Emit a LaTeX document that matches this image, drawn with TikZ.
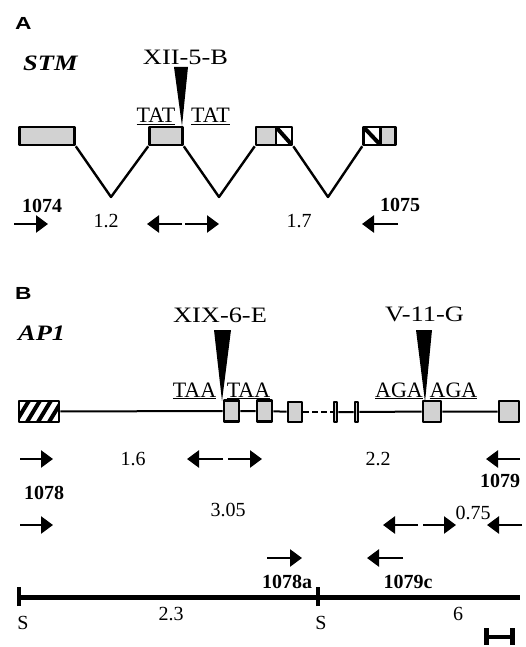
\documentclass[tikz,border=0pt]{standalone}
\usepackage{fontspec}
\setmainfont{Liberation Serif}
\newfontfamily\panelfont{Liberation Sans}
\usetikzlibrary{arrows.meta}
\tikzset{
  exon/.style={draw, line width=2.6pt, fill=gray!35, inner sep=0pt, minimum height=18pt},
  slash/.style={exon, fill=white, path picture={\draw[line width=4pt]
      (path picture bounding box.north west)--(path picture bounding box.south east);}},
  stripes/.style={exon, fill=white, path picture={\foreach \k in {-14,-3,8,19,30}
      \draw[line width=4pt] ([xshift=\k pt]path picture bounding box.south west)--++(14pt,23pt);}},
  primer/.style={line width=2.6pt, -{Triangle[length=12pt,width=17pt]}},
  num/.style={inner sep=0pt, font=\fontsize{20}{22}\selectfont},
  pname/.style={inner sep=0pt, font=\bfseries\fontsize{20}{22}\selectfont},
  codon/.style={inner sep=0pt, anchor=base, font=\fontsize{22}{24}\selectfont},
  site/.style={inner sep=0pt, font=\fontsize{22}{24}\selectfont},
  gene/.style={inner sep=0pt, anchor=base west, font=\bfseries\itshape\fontsize{22}{24}\selectfont},
  panel/.style={inner sep=0pt, anchor=base west, font=\panelfont\bfseries\fontsize{17.5}{20}\selectfont}
}
\begin{document}
\begin{tikzpicture}[x=1pt, y=-1pt, line join=round]
\useasboundingbox (0,0) rectangle (526,647);

% panel A
\node[panel] (lA) at (15,30) {\scalebox{1.3}[1]{A}};
\node[gene] (stm) at (23,71) {\scalebox{1.2}[1]{STM}};
\node[exon, minimum width=55pt] (a1) at (47,136) {};
\node[exon, minimum width=33pt] (a2) at (166,136) {};
\node[exon, minimum width=20pt] (a3) at (266,136) {};
\node[slash, minimum width=16pt] (a3h) at (284,136) {};
\node[slash, minimum width=17pt] (a4h) at (372,136) {};
\node[exon, minimum width=15pt] (a4) at (388,136) {};
\coordinate (v1) at (111,197);
\coordinate (v2) at (219,197);
\coordinate (v3) at (328,197);
\draw[line width=2.4pt] (a1.south east)--(v1)--(a2.south west);
\draw[line width=2.4pt] (a2.south east)--(v2)--(a3.south west);
\draw[line width=2.4pt] (a3h.south east)--(v3)--(a4h.south west);
\fill (174,67)--(188,67)--(182,126)--cycle;
\node[site] (ins1) at (185.5,57) {\scalebox{1.2}[1]{XII-5-B}};
\node[codon] (tat1) at (156,123) {\underline{TAT}};
\node[codon] (tat2) at (210.5,123) {\underline{TAT}};
\node[pname] (p1074) at (42,206) {1074};
\node[pname] (p1075) at (400,205) {1075};
\node[num] (d12) at (106,221) {1.2};
\node[num] (d17) at (299,221) {1.7};
\foreach \a/\b in {14/48, 182/147, 185/219, 398/362}
  \draw[primer] (\a,224)--(\b,224);

% panel B
\node[panel] (lB) at (15,299) {\scalebox{1.3}[1]{B}};
\node[gene] (ap1) at (18,340) {\scalebox{1.2}[1]{AP1}};
\node[stripes, minimum width=40pt, minimum height=21pt] (b1) at (39,411.5) {};
\node[exon, minimum width=15pt, minimum height=21pt] (b2) at (231.5,411) {};
\node[exon, minimum width=15pt, minimum height=21pt] (b3) at (264.5,411) {};
\node[exon, minimum width=14pt, minimum height=20pt] (b4) at (295,412) {};
\node[exon, minimum width=3pt, minimum height=20pt] (b5) at (335.5,412) {};
\node[exon, minimum width=3pt, minimum height=20pt] (b6) at (356.5,412) {};
\node[exon, minimum width=18pt, minimum height=21pt] (b7) at (432,411.5) {};
\node[exon, minimum width=20pt, minimum height=21pt] (b8) at (509,411.5) {};
\draw[line width=2pt] (b1)--(b2)--(b3)--(b4);
\draw[line width=1.2pt, dash pattern=on 6pt off 3pt] (b4)--(b5);
\draw[line width=2pt] (b5)--(b6)--(b7)--(b8);
\fill (214,330)--(231,330)--(222,401)--cycle;
\fill (416,330)--(432,330)--(425,402)--cycle;
\node[site] (ins2) at (220,315.5) {\scalebox{1.2}[1]{XIX-6-E}};
\node[site] (ins3) at (424.5,314) {\scalebox{1.2}[1]{V-11-G}};
\node[codon] (taa1) at (194.5,397) {\underline{TAA}};
\node[codon] (taa2) at (248.5,397) {\underline{TAA}};
\node[codon] (aga1) at (399,397) {\underline{AGA}};
\node[codon] (aga2) at (453.5,397) {\underline{AGA}};
\node[num] (d16) at (133,459) {1.6};
\node[num] (d22) at (378,459) {2.2};
\node[num] (d305) at (228,510) {3.05};
\node[num] (d075) at (473,513) {0.75};
\node[pname] (p1078) at (44,493) {1078};
\node[pname] (p1079) at (500,481) {1079};
\node[pname] (p1078a) at (287,582) {1078a};
\node[pname] (p1079c) at (408,582) {1079c};
\foreach \a/\b in {20/53, 223/187, 228/262, 520/486}
  \draw[primer] (\a,459)--(\b,459);
\foreach \a/\b in {20/53, 418/383, 423/456, 522/487}
  \draw[primer] (\a,525)--(\b,525);
\foreach \a/\b in {267/302, 403/367}
  \draw[primer] (\a,558)--(\b,558);

% map with SacI sites
\coordinate (s1) at (19,597);
\coordinate (s2) at (318,597);
\coordinate (mapend) at (520,597);
\draw[line width=5pt] (17,597)--(mapend);
\foreach \s in {s1,s2}
  \draw[line width=4pt] ([yshift=-9pt]\s)--([yshift=10pt]\s);
\node[num] (S1) at (23,623) {S};
\node[num] (S2) at (321,623) {S};
\node[num] (d23) at (171,614) {2.3};
\node[num] (d6) at (458,614) {6};
\draw[line width=5pt] (486,628)--(486,645) (512,628)--(512,645);
\draw[line width=4pt] (486,637)--(512,637);
\end{tikzpicture}
\end{document}
